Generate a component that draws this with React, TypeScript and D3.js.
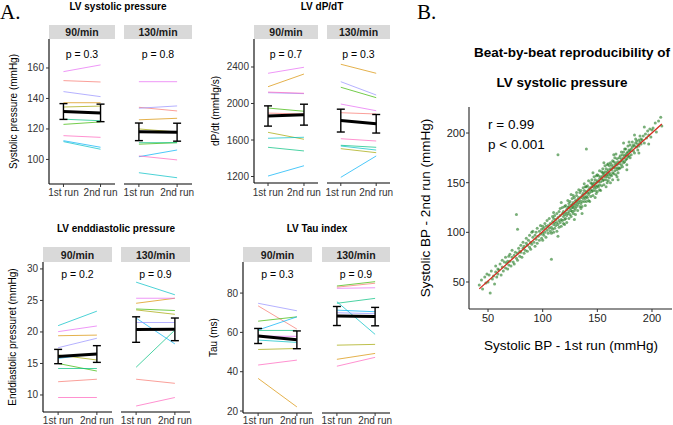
import React from "react";
import * as d3 from "d3";

// ---------- data ----------
const runs = ["1st run", "2nd run"];
const rates = ["90/min", "130/min"];
const subjects = ["S1", "S2", "S3", "S4", "S5", "S6", "S7", "S8", "S9", "S10"];
const palette = ["#F8766D", "#D89000", "#A3A500", "#39B600", "#00BF7D", "#00BFC4", "#00B0F6", "#9590FF", "#E76BF3", "#FF62BC"];

// LV systolic pressure (mmHg), subjects S1..S10
const sys90First = [151.7, 137.2, 134.4, 123, 126.4, 111.7, 112.3, 144.5, 157.6, 115.6];
const sys90Second = [150.8, 137.2, 135, 124.6, 125.4, 106.7, 108, 141.2, 162, 114.5];
const sys130First = [134.2, 126, 120, 110, 111, 91.3, 101.8, 133.6, 151, 102.3];
const sys130Second = [131.8, 127, 118, 111, 111, 88, 106.2, 135.1, 151, 99.7];
const sysTicks = [100, 120, 140, 160];
const sysP = ["p = 0.3", "p = 0.8"];

// LV dP/dt (mmHg/s)
const dpdt90First = [1895, 2184, 1684, 1950, 1520, 1619, 1205, 2118, 2331, 2125];
const dpdt90Second = [1885, 2323, 1608, 1915, 1480, 1630, 1318, 2108, 2397, 2112];
const dpdt130First = [1899, 2430, 1505, 2178, 1542, 1534, 1191, 2239, 1994, 1614];
const dpdt130Second = [1885, 2331, 1461, 2064, 1520, 1490, 1425, 2093, 1921, 1589];
const dpdtTicks = [1200, 1600, 2000, 2400];
const dpdtP = ["p = 0.7", "p = 0.3"];

// LV enddiastolic pressure (mmHg)
const edp90First = [12.1, 19.4, 16.35, 15, 14.2, 21, 15.8, 17.5, 20.05, 9.6];
const edp90Second = [12.5, 19.5, 15.55, 13.8, 14.2, 23.3, 16.6, 19, 20.95, 9.6];
const edp130First = [12.5, 24.55, 23.5, 23.65, 14.4, 27.9, 22.2, 21.5, 25.35, 8.25];
const edp130Second = [11.85, 25.35, 22.8, 23.4, 20.3, 25.9, 18.1, 21.5, 25.35, 9.6];
const edpTicks = [10, 15, 20, 25, 30];
const edpP = ["p = 0.2", "p = 0.9"];

// LV Tau index (ms)
const tau90First = [73.5, 36.6, 51.3, 65.7, 61, 56.1, 61.2, 74.8, 58.1, 43.4];
const tau90Second = [61.7, 22.1, 51.8, 67.9, 61, 54.9, 67.9, 71, 58, 45.9];
const tau130First = [83, 46.3, 53.5, 83.6, 74.8, 75.6, 71.3, 70, 82.4, 42.8];
const tau130Second = [85, 49.3, 53.9, 85.8, 77.3, 59, 70.5, 69.5, 82.7, 47.3];
const tauTicks = [20, 40, 60, 80];
const tauP = ["p = 0.3", "p = 0.9"];

// Beat-by-beat systolic BP: [1st run, 2nd run] (mmHg)
const beatPairs: [number, number][] = [
  [42, 47], [44, 52], [45, 43], [47, 55], [48, 49], [49, 58], [52, 39],
  [50, 50], [51, 57], [53, 61], [54, 53], [55, 56], [56, 48], [57, 60], [57, 66], [58, 55], [59, 63], [59, 58],
  [60, 62], [61, 68], [62, 57], [63, 65], [63, 72], [64, 61], [65, 70], [66, 64], [66, 75], [67, 69], [68, 63], [68, 71], [69, 76], [69, 67],
  [70, 71], [70, 78], [71, 66], [72, 75], [72, 82], [73, 70], [74, 77], [74, 68], [75, 80], [76, 74], [76, 118], [77, 79], [77, 72], [78, 84], [79, 76], [79, 81], [77, 103],
  [80, 80], [80, 87], [81, 75], [82, 84], [82, 90], [83, 79], [83, 86], [84, 82], [85, 89], [85, 94], [86, 81], [86, 87], [87, 92], [88, 85], [88, 97], [89, 90], [89, 83], [90, 100],
  [90, 88], [91, 95], [91, 101], [92, 90], [93, 97], [93, 86], [94, 100], [94, 93], [95, 104], [95, 89], [96, 96], [97, 101], [97, 92], [98, 107], [98, 98], [99, 94], [99, 103], [100, 99], [100, 106], [100, 92],
  [101, 104], [101, 97], [102, 109], [102, 100], [103, 95], [103, 106], [104, 102], [104, 112], [105, 99], [105, 107], [106, 104], [106, 114], [107, 101], [107, 109], [108, 73], [108, 105], [108, 99], [109, 111], [109, 116], [109, 103], [110, 108], [110, 100], [110, 114], [110, 120],
  [111, 110], [111, 104], [111, 117], [112, 113], [112, 107], [113, 110], [113, 119], [113, 101], [114, 115], [114, 108], [115, 112], [115, 121], [115, 105], [116, 117], [116, 110], [116, 124], [117, 113], [117, 106], [118, 119], [118, 112], [118, 125], [119, 116], [119, 109], [119, 121], [120, 118], [120, 113], [120, 126], [120, 108], [117, 130], [114, 96],
  [121, 120], [121, 114], [121, 127], [122, 123], [122, 117], [122, 110], [123, 125], [123, 119], [124, 121], [124, 129], [124, 114], [125, 124], [125, 118], [125, 131], [126, 122], [126, 127], [126, 116], [127, 128], [127, 121], [127, 134], [128, 125], [128, 119], [128, 130], [129, 127], [129, 122], [129, 135], [130, 129], [130, 124], [130, 132], [130, 118], [123, 132], [126, 138], [129, 113], [124, 126], [127, 125], [128, 137],
  [131, 131], [131, 126], [131, 137], [132, 133], [132, 128], [132, 122], [133, 135], [133, 130], [134, 132], [134, 140], [134, 126], [135, 135], [135, 129], [135, 142], [136, 137], [136, 131], [136, 126], [137, 139], [137, 134], [137, 145], [138, 136], [138, 131], [138, 142], [139, 139], [139, 134], [139, 127], [140, 141], [140, 136], [140, 146], [140, 131], [133, 143], [136, 119], [138, 149], [131, 140], [135, 124], [139, 146],
  [141, 140], [141, 135], [141, 147], [142, 143], [142, 138], [142, 132], [143, 145], [143, 140], [144, 143], [144, 150], [144, 136], [145, 146], [145, 141], [145, 153], [146, 148], [146, 142], [146, 137], [147, 150], [147, 145], [147, 156], [148, 147], [148, 142], [148, 153], [149, 150], [149, 145], [149, 139], [150, 152], [150, 147], [150, 158], [150, 141], [143, 131], [146, 160], [148, 135], [145, 149], [149, 157], [142, 152], [140, 184], [114, 178],
  [151, 151], [151, 146], [151, 157], [152, 154], [152, 148], [152, 143], [153, 156], [153, 151], [154, 154], [154, 161], [154, 147], [155, 157], [155, 152], [155, 164], [156, 159], [156, 153], [156, 148], [157, 161], [157, 156], [157, 167], [158, 158], [158, 153], [158, 164], [159, 161], [159, 156], [159, 150], [160, 163], [160, 158], [160, 169], [160, 152], [153, 142], [156, 170], [158, 146], [155, 160], [159, 168], [152, 162],
  [161, 160], [161, 167], [161, 155], [162, 164], [162, 158], [162, 170], [163, 163], [163, 157], [163, 168], [164, 166], [164, 160], [164, 153], [165, 165], [165, 171], [165, 159], [166, 168], [166, 162], [166, 175], [167, 165], [167, 170], [167, 158], [168, 168], [168, 163], [168, 174], [169, 171], [169, 165], [169, 160], [170, 169], [170, 175], [170, 164], [162, 150], [165, 178], [168, 156], [164, 172], [167, 179], [169, 153],
  [171, 171], [171, 177], [171, 165], [172, 174], [172, 168], [172, 181], [173, 172], [173, 178], [173, 166], [174, 175], [174, 181], [174, 170], [175, 177], [175, 171], [175, 184], [176, 178], [176, 173], [176, 184], [177, 180], [177, 174], [177, 168], [178, 181], [178, 176], [178, 187], [179, 183], [179, 177], [180, 182], [180, 188], [180, 175], [174, 190], [177, 163], [179, 191],
  [181, 184], [181, 178], [182, 186], [182, 191], [183, 182], [183, 188], [184, 187], [184, 180], [185, 190], [185, 194], [186, 186], [186, 192], [187, 189], [187, 183], [188, 193], [188, 187], [189, 191], [189, 197], [190, 189], [190, 194], [184, 198], [188, 180],
  [191, 193], [192, 197], [193, 190], [194, 199], [195, 195], [196, 202], [197, 198], [198, 204], [199, 196], [200, 203], [193, 206], [197, 189],
  [201, 205], [203, 210], [204, 201], [206, 212], [208, 216], [209, 207],
];
const scatterTicks = [50, 100, 150, 200];

// ---------- layout ----------
const SANS = "'Liberation Sans', Arial, Helvetica, sans-serif";
const SERIF = "'Liberation Serif', 'Times New Roman', serif";

type FacetLayout = {
  titleX: number; titleY: number; yTitleX: number; axisX: number; w1: number; gap: number; w2: number;
  stripTop: number; top: number; bottom: number; domain: [number, number]; pY: number; xLabY: number;
};
type FacetDef = {
  title: string; yTitle: string; ticks: number[]; pLabels: string[];
  values: [number[], number[]][]; layout: FacetLayout;
};

const facets: FacetDef[] = [
  {
    title: "LV systolic pressure", yTitle: "Systolic pressure (mmHg)", ticks: sysTicks, pLabels: sysP,
    values: [[sys90First, sys90Second], [sys130First, sys130Second]],
    layout: { titleX: 118, titleY: 10, yTitleX: 13, axisX: 49, w1: 66, gap: 9, w2: 68, stripTop: 25, top: 39, bottom: 184, domain: [83.9, 179], pY: 57.5, xLabY: 196 },
  },
  {
    title: "LV dP/dT", yTitle: "dP/dt (mmHg/s)", ticks: dpdtTicks, pLabels: dpdtP,
    values: [[dpdt90First, dpdt90Second], [dpdt130First, dpdt130Second]],
    layout: { titleX: 322, titleY: 10, yTitleX: 215, axisX: 254, w1: 64, gap: 9, w2: 63, stripTop: 25, top: 39, bottom: 183, domain: [1128.8, 2706.8], pY: 57.5, xLabY: 196 },
  },
  {
    title: "LV enddiastolic pressure", yTitle: "Enddiastolic pressuret (mmHg)", ticks: edpTicks, pLabels: edpP,
    values: [[edp90First, edp90Second], [edp130First, edp130Second]],
    layout: { titleX: 116, titleY: 232, yTitleX: 12, axisX: 43, w1: 69, gap: 9, w2: 69, stripTop: 247, top: 262, bottom: 412, domain: [7.3, 31.1], pY: 277.5, xLabY: 423.5 },
  },
  {
    title: "LV Tau index", yTitle: "Tau (ms)", ticks: tauTicks, pLabels: tauP,
    values: [[tau90First, tau90Second], [tau130First, tau130Second]],
    layout: { titleX: 317, titleY: 232, yTitleX: 213, axisX: 243, w1: 69, gap: 10, w2: 68, stripTop: 247, top: 262, bottom: 413, domain: [19, 95.8], pY: 277.5, xLabY: 423.5 },
  },
];

const colorScale = d3.scaleOrdinal<string, string>().domain(subjects).range(palette);

function Facet({ def }: { def: FacetDef }) {
  const L = def.layout;
  const y = d3.scaleLinear().domain(L.domain).range([L.bottom, L.top]);
  const panels = rates.map((rate, i) => {
    const x0 = i === 0 ? L.axisX : L.axisX + L.w1 + L.gap;
    const w = i === 0 ? L.w1 : L.w2;
    const x = d3.scalePoint<string>().domain(runs).range([x0, x0 + w]).padding(0.39);
    return { rate, x0, w, x, vals: def.values[i], p: def.pLabels[i] };
  });
  const meanLine = d3.line<[number, number]>().x((d) => d[0]).y((d) => d[1]);
  return (
    <g>
      <text x={L.titleX} y={L.titleY} textAnchor="middle" fontSize={10} fontWeight="bold" fill="#000">{def.title}</text>
      <text transform={`translate(${L.yTitleX},${(L.top + L.bottom) / 2}) rotate(-90)`} textAnchor="middle" dominantBaseline="central" fontSize={10} fill="#000">{def.yTitle}</text>
      <line x1={L.axisX} x2={L.axisX} y1={L.top} y2={L.bottom} stroke="#000" strokeWidth={1.1} />
      {def.ticks.map((t) => (
        <g key={t}>
          <line x1={L.axisX - 3} x2={L.axisX} y1={y(t)} y2={y(t)} stroke="#333" strokeWidth={1} />
          <text x={L.axisX - 5} y={y(t)} textAnchor="end" dominantBaseline="central" fontSize={10} fill="#333">{t}</text>
        </g>
      ))}
      {panels.map((p) => {
        const [first, second] = p.vals;
        const stats = [first, second].map((arr) => {
          const m = d3.mean(arr) as number;
          const se = (d3.deviation(arr) as number) / Math.sqrt(arr.length);
          return { m, se };
        });
        const xs = runs.map((r) => p.x(r) as number);
        return (
          <g key={p.rate}>
            <rect x={p.x0} y={L.stripTop} width={p.w} height={L.top - L.stripTop} fill="#d9d9d9" />
            <text x={p.x0 + p.w / 2} y={L.stripTop + (L.top - L.stripTop) / 2} textAnchor="middle" dominantBaseline="central" fontSize={10.5} fontWeight="bold" fill="#1a1a1a">{p.rate}</text>
            <line x1={p.x0} x2={p.x0 + p.w} y1={L.bottom} y2={L.bottom} stroke="#000" strokeWidth={1.1} />
            {runs.map((r) => (
              <g key={r}>
                <line x1={p.x(r)} x2={p.x(r)} y1={L.bottom} y2={L.bottom + 3} stroke="#333" strokeWidth={1} />
                <text x={p.x(r)} y={L.xLabY} textAnchor="middle" fontSize={10} fill="#333">{r}</text>
              </g>
            ))}
            <text x={(xs[0] + xs[1]) / 2} y={L.pY} textAnchor="middle" fontSize={10.5} fill="#000">{p.p}</text>
            {subjects.map((s, j) => (
              <line key={s} x1={xs[0]} x2={xs[1]} y1={y(first[j])} y2={y(second[j])} stroke={colorScale(s)} strokeWidth={1} strokeOpacity={0.7} />
            ))}
            <path d={meanLine(stats.map((st, k) => [xs[k], y(st.m)]) as [number, number][]) || ""} stroke="#000" strokeWidth={3} fill="none" />
            {stats.map((st, k) => (
              <g key={k} stroke="#000" strokeWidth={1.4}>
                <line x1={xs[k]} x2={xs[k]} y1={y(st.m - st.se)} y2={y(st.m + st.se)} />
                <line x1={xs[k] - 4} x2={xs[k] + 4} y1={y(st.m - st.se)} y2={y(st.m - st.se)} />
                <line x1={xs[k] - 4} x2={xs[k] + 4} y1={y(st.m + st.se)} y2={y(st.m + st.se)} />
              </g>
            ))}
          </g>
        );
      })}
    </g>
  );
}

function Scatter() {
  const left = 469, right = 672, top = 107, bottom = 309;
  const sx = d3.scaleLinear().domain([32.6, 218.3]).range([left, right]);
  const sy = d3.scaleLinear().domain([22.8, 226.2]).range([bottom, top]);
  const mx = d3.mean(beatPairs, (d) => d[0]) as number;
  const my = d3.mean(beatPairs, (d) => d[1]) as number;
  const sxy = d3.sum(beatPairs, (d) => (d[0] - mx) * (d[1] - my));
  const sxx = d3.sum(beatPairs, (d) => (d[0] - mx) * (d[0] - mx));
  const slope = sxy / sxx;
  const icpt = my - slope * mx;
  const [xmin, xmax] = d3.extent(beatPairs, (d) => d[0]) as [number, number];
  const fit = d3.line<number>().x((v) => sx(v)).y((v) => sy(icpt + slope * v));
  return (
    <g>
      <text x={572} y={57} textAnchor="middle" fontSize={13.5} fontWeight="bold" fill="#000">Beat-by-beat reproducibility of</text>
      <text x={562} y={87} textAnchor="middle" fontSize={13.5} fontWeight="bold" fill="#000">LV systolic pressure</text>
      {beatPairs.map((d, i) => (
        <circle key={i} cx={sx(d[0])} cy={sy(d[1])} r={1.5} fill="#1f7a1f" fillOpacity={0.6} />
      ))}
      <path d={fit([xmin, xmax]) || ""} stroke="#d42a1e" strokeWidth={1.3} fill="none" />
      <line x1={left} x2={left} y1={top} y2={bottom} stroke="#222" strokeWidth={1.1} />
      <line x1={left} x2={right} y1={bottom} y2={bottom} stroke="#222" strokeWidth={1.1} />
      {scatterTicks.map((t) => (
        <g key={"y" + t}>
          <line x1={left - 3} x2={left} y1={sy(t)} y2={sy(t)} stroke="#333" />
          <text x={left - 4} y={sy(t)} textAnchor="end" dominantBaseline="central" fontSize={11} fill="#222">{t}</text>
        </g>
      ))}
      {scatterTicks.map((t) => (
        <g key={"x" + t}>
          <line x1={sx(t)} x2={sx(t)} y1={bottom} y2={bottom + 3} stroke="#333" />
          <text x={sx(t)} y={bottom + 13} textAnchor="middle" fontSize={11} fill="#222">{t}</text>
        </g>
      ))}
      <text x={571} y={350} textAnchor="middle" fontSize={13.5} fill="#000">Systolic BP - 1st run (mmHg)</text>
      <text transform={`translate(425,${(top + bottom) / 2}) rotate(-90)`} textAnchor="middle" dominantBaseline="central" fontSize={13.5} fill="#000">Systolic BP - 2nd run (mmHg)</text>
      <text x={488} y={129} fontSize={13.5} fill="#000">r = 0.99</text>
      <text x={488} y={149} fontSize={13.5} fill="#000">p &lt; 0.001</text>
    </g>
  );
}

export default function App() {
  return (
    <svg width={673} height={425} style={{ position: "absolute", left: 0, top: 0, background: "#fff" }} fontFamily={SANS}>
      <rect x={0} y={0} width={673} height={425} fill="#fff" />
      <text x={0} y={19} fontFamily={SERIF} fontSize={21} fill="#000">A.</text>
      <text x={417} y={19} fontFamily={SERIF} fontSize={21} fill="#000">B.</text>
      {facets.map((f) => (
        <Facet key={f.title} def={f} />
      ))}
      <Scatter />
    </svg>
  );
}
